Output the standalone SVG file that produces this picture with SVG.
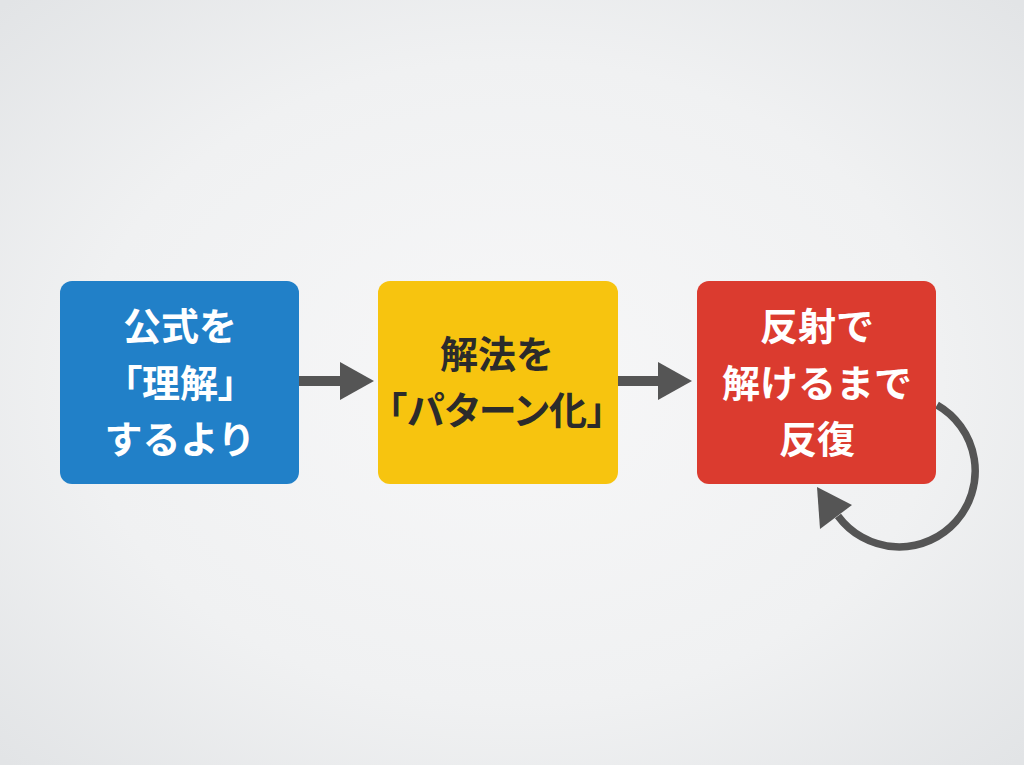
<svg xmlns="http://www.w3.org/2000/svg" width="1024" height="765" viewBox="0 0 1024 765">
<defs>
<radialGradient id="bg" cx="50%" cy="50%" r="70%">
<stop offset="0" stop-color="#f7f7f8"/>
<stop offset="0.6" stop-color="#f0f1f2"/>
<stop offset="1" stop-color="#e2e4e6"/>
</radialGradient>
<style>
.box{stroke:none}
.t{font-family:"Noto Sans CJK JP","Noto Sans",sans-serif;font-weight:bold;font-size:38px;text-anchor:middle}
.p{font-feature-settings:"palt"}
.w{fill:#ffffff}
.d{fill:#2b2b2b}
.con{fill:none;stroke:#555555;stroke-width:10}
.head{fill:#555555}
</style>
</defs>
<rect width="1024" height="765" fill="url(#bg)"/>
<g id="connectors">
<line class="con" x1="299" y1="381" x2="342" y2="381"/>
<polygon class="head" points="340,362 374,381 340,400"/>
<line class="con" x1="618" y1="381" x2="660" y2="381"/>
<polygon class="head" points="658,362 692,381 658,400"/>
<path d="M937,405 A76,76 0 1 1 838,516" fill="none" stroke="#555555" stroke-width="7.5"/>
<polygon class="head" points="817,487 852,505 820,529"/>
</g>
<g id="node1">
<rect class="box" x="60" y="281" width="239" height="203" rx="12" fill="#2180c8"/>
<text class="t w" x="180" y="340">公式を</text>
<text class="t w p" x="180" y="397">「理解」</text>
<text class="t w" x="180" y="453">するより</text>
</g>
<g id="node2">
<rect class="box" x="378" y="281" width="240" height="203" rx="12" fill="#f7c40f"/>
<text class="t d" x="497" y="368">解法を</text>
<text class="t d p" x="497" y="424">「パターン化」</text>
</g>
<g id="node3">
<rect class="box" x="697" y="281" width="239" height="203" rx="12" fill="#db3b2f"/>
<text class="t w" x="817" y="340">反射で</text>
<text class="t w" x="817" y="397">解けるまで</text>
<text class="t w" x="817" y="453">反復</text>
</g>
</svg>
